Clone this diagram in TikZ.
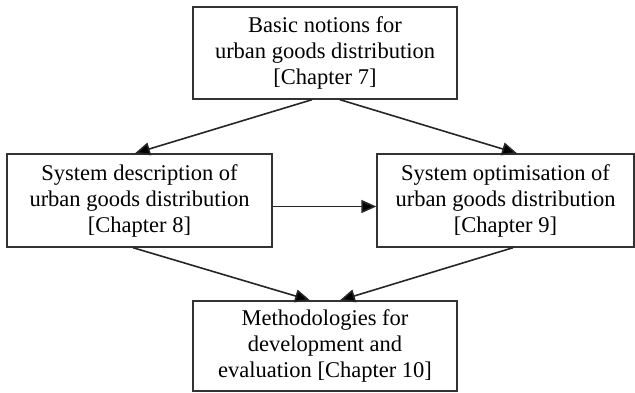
\documentclass[tikz,border=0pt]{standalone}
\usepackage{fontspec}
\setmainfont{Liberation Serif}
\usetikzlibrary{arrows.meta}
\begin{document}
\begin{tikzpicture}[x=1pt,y=1pt,
  box/.style={draw=black!80, line width=1.4pt, fill=white, align=center, inner sep=0pt,
    font=\fontsize{22.5}{26}\selectfont},
  arr/.style={draw=black!85, line width=1.6pt, -{Triangle[length=15pt,width=13pt,fill=black]}}]
\useasboundingbox (0,0) rectangle (635,392);
\node[box, minimum width=264pt, minimum height=92pt] (top) at (325,339) {Basic notions for\\urban goods distribution\\{[Chapter 7]}};
\node[box, minimum width=265pt, minimum height=93pt] (left) at (139.5,191.5) {System description of\\urban goods distribution\\{[Chapter 8]}};
\node[box, minimum width=257pt, minimum height=93pt] (right) at (505.5,191.5) {System optimisation of\\urban goods distribution\\{[Chapter 9]}};
\node[box, minimum width=264pt, minimum height=90pt] (bottom) at (325,46) {Methodologies for\\development and\\evaluation [Chapter 10]};
\draw[arr] ([xshift=-13pt]top.south) -- ([xshift=-4.5pt]left.north);
\draw[arr] ([xshift=15pt]top.south) -- ([xshift=11.5pt]right.north);
\draw[arr] ([yshift=-6pt]left.east) -- ([yshift=-6pt]right.west);
\draw[arr] ([xshift=-6.5pt]left.south) -- ([xshift=-15pt]bottom.north);
\draw[arr] ([xshift=7.5pt]right.south) -- ([xshift=15pt]bottom.north);
\end{tikzpicture}
\end{document}
